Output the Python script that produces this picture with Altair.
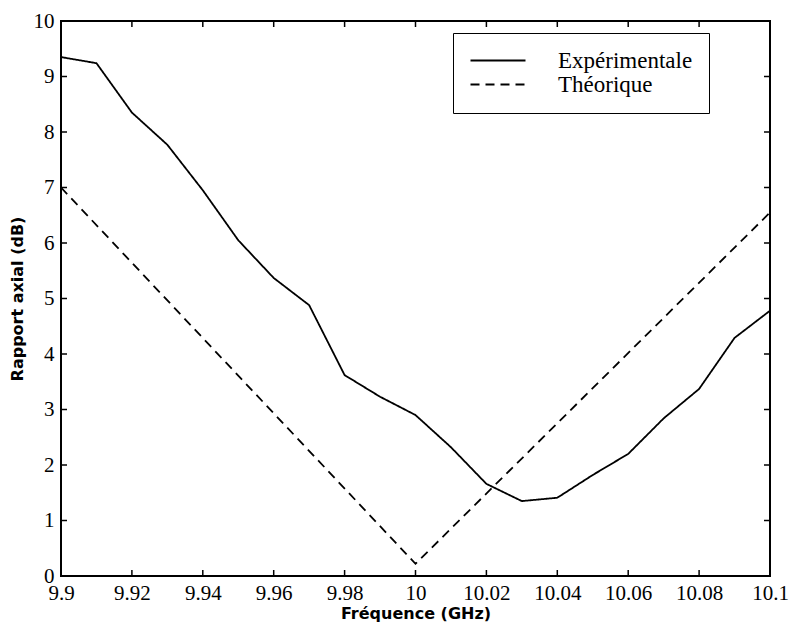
import altair as alt
import pandas as pd

# ---- data ----
freq = [9.90, 9.91, 9.92, 9.93, 9.94, 9.95, 9.96, 9.97, 9.98, 9.99, 10.00,
        10.01, 10.02, 10.03, 10.04, 10.05, 10.06, 10.07, 10.08, 10.09, 10.10]
experimental = [9.35, 9.24, 8.35, 7.77, 6.95, 6.05, 5.37, 4.88, 3.62, 3.23, 2.90,
                 2.32, 1.66, 1.35, 1.41, 1.82, 2.20, 2.84, 3.37, 4.29, 4.78]
theo_freq = [9.90, 10.00, 10.10]
theoretical = [7.00, 0.22, 6.55]

series_names = ["Expérimentale", "Théorique"]
x_ticks = [9.90, 9.92, 9.94, 9.96, 9.98, 10.00, 10.02, 10.04, 10.06, 10.08, 10.10]
y_ticks = [0, 1, 2, 3, 4, 5, 6, 7, 8, 9, 10]

x_title = "Fréquence (GHz)"
y_title = "Rapport axial (dB)"

W, H = 709, 555
SERIF = "Liberation Serif"

df = pd.concat([
    pd.DataFrame({"freq": freq, "ar": experimental, "series": series_names[0]}),
    pd.DataFrame({"freq": theo_freq, "ar": theoretical, "series": series_names[1]}),
])
xt = pd.DataFrame({"freq": x_ticks[1:-1]})
yt = pd.DataFrame({"ar": y_ticks[1:-1]})

x_scale = alt.Scale(domain=[9.9, 10.1], nice=False, zero=False)
y_scale = alt.Scale(domain=[0, 10], nice=False, zero=False)

x_axis = alt.Axis(values=x_ticks, labelExpr="format(datum.value, '~g')",
                  title=x_title, domain=False, ticks=False, grid=False,
                  labelPadding=6, labelFlush=False, titlePadding=2,
                  labelFont=SERIF, labelFontSize=21, labelColor="black",
                  titleFont="DejaVu Sans", titleFontSize=16, titleFontWeight="bold",
                  titleColor="black")
y_axis = alt.Axis(values=y_ticks, title=y_title, domain=False, ticks=False, grid=False,
                  labelPadding=7, labelFlush=False, titlePadding=8,
                  labelFont=SERIF, labelFontSize=21, labelColor="black",
                  titleFont="DejaVu Sans", titleFontSize=16, titleFontWeight="bold",
                  titleColor="black")

X = alt.X("freq:Q", scale=x_scale, axis=x_axis)
Y = alt.Y("ar:Q", scale=y_scale, axis=y_axis)

lines = alt.Chart(df).mark_line(color="black", strokeWidth=1.8).encode(
    x=X,
    y=Y,
    strokeDash=alt.StrokeDash(
        "series:N",
        scale=alt.Scale(domain=series_names, range=[[1, 0], [9, 6]]),
        legend=alt.Legend(title=None, orient="none", legendX=392, legendY=12,
                          strokeColor="black", fillColor="white", padding=16,
                          symbolType="M-1,0H4.5",
                          symbolSize=400, symbolStrokeWidth=1.8,
                          symbolStrokeColor="black", labelOffset=66,
                          labelFont=SERIF, labelFontSize=23, labelColor="black",
                          rowPadding=-3),
    ),
)

tick_style = dict(color="black", strokeWidth=1.5)
bottom_ticks = alt.Chart(xt).mark_rule(**tick_style).encode(
    x=X, y=alt.value(H), y2=alt.value(H - 6))
top_ticks = alt.Chart(xt).mark_rule(**tick_style).encode(
    x=X, y=alt.value(0), y2=alt.value(6))
left_ticks = alt.Chart(yt).mark_rule(**tick_style).encode(
    y=Y, x=alt.value(0), x2=alt.value(6))
right_ticks = alt.Chart(yt).mark_rule(**tick_style).encode(
    y=Y, x=alt.value(W), x2=alt.value(W - 6))

chart = alt.layer(lines, bottom_ticks, top_ticks, left_ticks, right_ticks).properties(
    width=W, height=H,
    autosize=alt.AutoSizeParams(type="none"),
    padding={"left": 61, "top": 21, "right": 19, "bottom": 51},
    background="white",
).configure(font=SERIF).configure_view(stroke="black", strokeWidth=2).configure_axis(
    labelFont=SERIF, labelFontSize=21, labelColor="black",
    titleFont="DejaVu Sans", titleFontSize=16, titleFontWeight="bold", titleColor="black",
).configure_legend(
    labelFont=SERIF, labelFontSize=23, labelColor="black",
)

chart.save("out.html", embed_options={"renderer": "svg", "actions": False})
